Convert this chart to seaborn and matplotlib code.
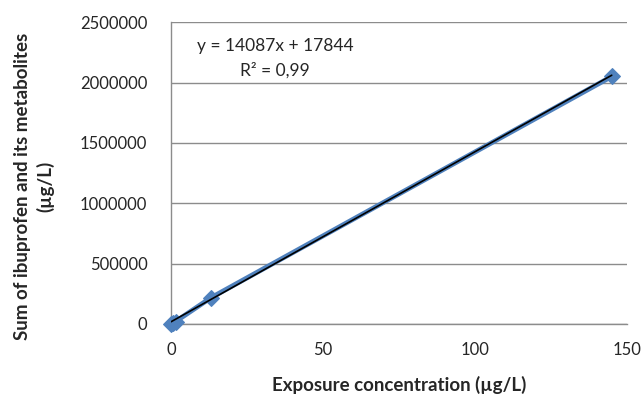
import matplotlib
matplotlib.use("Agg")
import matplotlib.pyplot as plt
import seaborn as sns
import numpy as np
import pandas as pd

conc = [0, 0.5, 1.5, 13, 145]
total = [0, 5000, 20000, 215000, 2050000]
slope = 14087
intercept = 17844
xticks = [0, 50, 100, 150]
yticks = [0, 500000, 1000000, 1500000, 2000000, 2500000]

sns.set_style("white")
plt.rcParams['font.family'] = ['Lato', 'DejaVu Sans']

fig = plt.figure(figsize=(6.43, 3.96), dpi=100)
ax = fig.add_axes([0.266, 0.182, 0.709, 0.762])

df = pd.DataFrame({"x": conc, "y": total})
sns.lineplot(data=df, x="x", y="y", ax=ax, color="#4F81BD", linewidth=3.5,
             marker="D", markersize=8, markeredgecolor="#4F81BD", zorder=3,
             clip_on=False)
fx = np.array([0, max(conc)])
ax.plot(fx, slope * fx + intercept, color="black", linewidth=1.2, zorder=4)

ax.set_xlim(0, 150)
ax.set_ylim(0, 2500000)
ax.set_xticks(xticks)
ax.set_yticks(yticks)
ax.set_xticklabels([str(t) for t in xticks], fontsize=12)
ax.set_yticklabels([str(t) for t in yticks], fontsize=12)
ax.tick_params(axis='x', length=0, pad=13)
ax.tick_params(axis='y', length=0, pad=17)
ax.yaxis.grid(True, color="#8c8c8c", linewidth=1)
ax.set_axisbelow(True)
for s in ["top", "right"]:
    ax.spines[s].set_visible(False)
for s in ["left", "bottom"]:
    ax.spines[s].set_color("#8c8c8c")
    ax.spines[s].set_linewidth(1)

ax.set_xlabel("Exposure concentration (µg/L)", fontsize=13.5, fontweight="bold", labelpad=13)
ax.set_ylabel("Sum of ibuprofen and its metabolites\n(µg/L)", fontsize=13.5,
              fontweight="bold", linespacing=1.35)
ax.yaxis.set_label_coords(-0.255, 0.455)

ax.text(0.057, 0.92, "y = 14087x + 17844", transform=ax.transAxes, fontsize=12.5, va="center")
ax.text(0.152, 0.84, "R² = 0,99", transform=ax.transAxes, fontsize=12.5, va="center")

fig.savefig("out.png", dpi=100)
